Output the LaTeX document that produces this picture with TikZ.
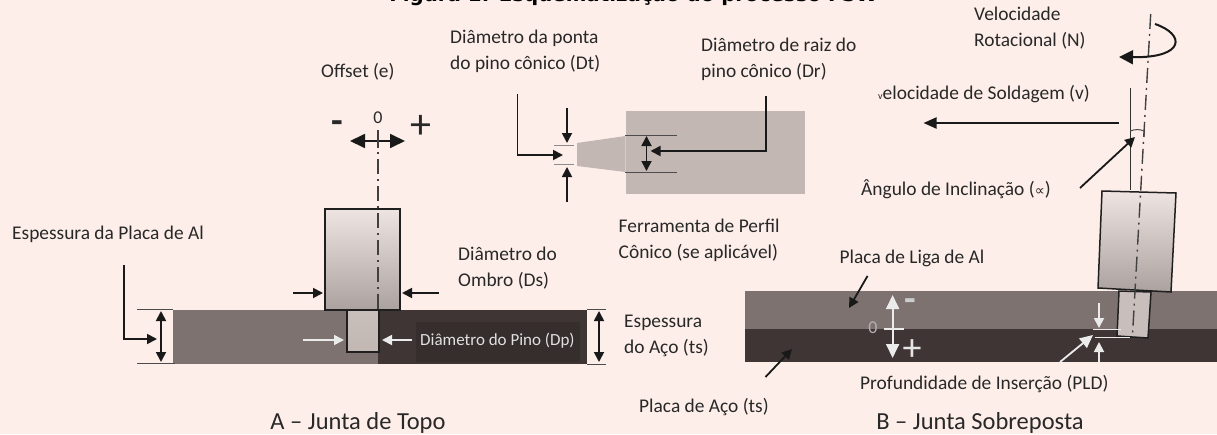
\documentclass[tikz,border=0pt]{standalone}
\usepackage{fontspec}
\setmainfont{Carlito}
\newfontfamily\titlefont{DejaVu Sans}
\newfontfamily\symfont{DejaVu Sans}
\usetikzlibrary{arrows.meta}
\definecolor{bgc}{HTML}{FDEEE9}
\definecolor{algray}{HTML}{7D7270}
\definecolor{steeldark}{HTML}{3E3534}
\definecolor{toolgray}{HTML}{C2B7B3}
\definecolor{txt}{HTML}{282828}
\definecolor{metaltop}{HTML}{EEE4E1}
\definecolor{metalbot}{HTML}{ABA19F}
\tikzset{
 lbl/.style={anchor=west,inner sep=0pt,text=txt,font=\fontsize{19.4}{18}\selectfont},
 captxt/.style={anchor=center,inner sep=0pt,text=txt,font=\fontsize{24.5}{26}\selectfont},
 blk/.style={draw=black!90,line width=1.8pt,-{Triangle[length=10pt,width=10pt]}},
 dbl/.style={draw=black!90,line width=1.8pt,{Triangle[length=10pt,width=10pt]}-{Triangle[length=10pt,width=10pt]}},
 wht/.style={draw=white!92!black,line width=1.8pt,-{Triangle[length=10pt,width=10pt]}},
 thinline/.style={draw=black!70,line width=1pt},
 axisline/.style={draw=black!75,line width=1.4pt,dash pattern=on 15pt off 5pt on 2pt off 5pt},
 metal/.style={draw=black!88,line width=1.5pt,top color=metaltop,bottom color=metalbot},
}
\begin{document}
\begin{tikzpicture}[x=1pt,y=-1pt]
\useasboundingbox (0,0) rectangle (1217,434);
\fill[bgc] (0,0) rectangle (1217,434);
\clip (0,0) rectangle (1217,434);
% title
\node[anchor=base,inner sep=0pt,font=\titlefont\bfseries\fontsize{19.8}{22}\selectfont] (title) at (633.5,1.5) {Figura 1: Esquematização do processo FSW};

% ---------- A: butt joint
\fill[algray] (173,310) rectangle (378,364);
\fill[steeldark] (378,310) rectangle (587,364);
\fill[black,opacity=.12] (416,322) rectangle (580,362);
\draw[thinline] (137,309) -- (173,309);
\draw[thinline] (137,363.5) -- (175,363.5);
\draw[thinline] (587,309) -- (606,309);
\draw[thinline] (587,364) -- (606,364);
\draw[metal] (325,209) rectangle (400,310);
\draw[metal,top color=toolgray!90!white,bottom color=toolgray] (347,310) rectangle (379,352);
\draw[axisline] (378,132) -- (378,310);
\draw[draw=black!90,line width=1.8pt,{Triangle[length=15pt,width=14pt]}-{Triangle[length=15pt,width=14pt]}] (350,141) -- (405,141);
\draw[draw=black!75,line width=1.4pt] (378,130) -- (378,148);
\node[inner sep=0pt,font=\fontsize{18}{18}\selectfont,text=txt] (zeroA) at (378,118) {0};
\node[inner sep=0pt,font=\bfseries\fontsize{38}{38}\selectfont,text=txt] (minusA) at (337,127) {-};
\node[inner sep=0pt,font=\fontsize{42}{42}\selectfont,text=txt] (plusA) at (420.7,127) {+};
\draw[blk] (293,293) -- (323,293);
\draw[blk] (439,293) -- (402,293);
\draw[dbl] (161,311) -- (161,362);
\draw[dbl] (599,311) -- (599,362);
\draw[blk] (124,265) -- (124,339) -- (157,339);
\draw[wht] (303,340) -- (344,340);
\draw[wht] (412,340) -- (382,340);
\node[lbl,text=white!88!black,font=\fontsize{17}{18}\selectfont] (dp) at (420,341) {Diâmetro do Pino (Dp)};
\node[lbl] (offset) at (321,72) {Offset (e)};
\node[lbl] (espal) at (12,234) {Espessura da Placa de Al};
\node[lbl,align=left] (ds) at (458,268) {Diâmetro do\\[8pt]Ombro (Ds)};
\node[lbl,align=left] (ests) at (624,335.5) {Espessura\\[8pt]do Aço (ts)};
\node[captxt] (capA) at (358,422.5) {A – Junta de Topo};

% ---------- tapered tool
\fill[toolgray] (625.5,111) rectangle (805,194);
\fill[toolgray] (577,143) -- (625.5,136) -- (625.5,172) -- (577,166) -- cycle;
\draw[thinline] (625,135) -- (677,135);
\draw[thinline] (625,172) -- (677,172);
\draw[thinline,draw=black!45] (554,145) -- (574,145);
\draw[thinline,draw=black!45] (554,164) -- (574,164);
\draw[dbl] (646.5,136) -- (646.5,171);
\draw[blk] (766,96) -- (766,151) -- (650.5,151);
\draw[blk] (517.5,94) -- (517.5,155) -- (563,155);
\draw[blk] (567,108) -- (567,143);
\draw[blk] (567,202) -- (567,167);
\node[lbl,align=left] (dt) at (450,51) {Diâmetro da ponta\\[8pt]do pino cônico (Dt)};
\node[lbl,align=left] (dr) at (701,59) {Diâmetro de raiz do\\[8pt]pino cônico (Dr)};
\node[lbl,align=left] (fer) at (618.5,240) {Ferramenta de Perfil\\[8pt]Cônico (se aplicável)};

% ---------- B: lap joint
\fill[algray] (745,291) rectangle (1217,329);
\fill[steeldark] (745,329) rectangle (1217,362);
\draw[metal] (1102,191) -- (1176,193) -- (1171,292) -- (1098,288) -- cycle;
\draw[metal,top color=toolgray!90!white,bottom color=toolgray!90!white] (1119,291) -- (1151,292) -- (1148,338) -- (1117,336) -- cycle;
\draw[thinline,draw=black!80,line width=1.3pt] (1130.3,88) -- (1130.3,190);
\draw[axisline] (1150.7,14) -- (1132.5,335);
\draw[draw=black!90,line width=2pt,-{Triangle[length=14pt,width=14pt]}] (1155,24) .. controls (1185,34) and (1186,58) .. (1119,57);
\draw[draw=black!90,line width=2pt,-{Triangle[length=13pt,width=11pt]}] (1119,123) -- (923.5,123);
\draw[thinline] (1130.3,131) .. controls (1135,129) and (1141,129) .. (1144.5,131.5) -- (1144,137);
\draw[blk] (1080,188) -- (1135,137);
\draw[blk] (867.5,276) -- (849,308);
\draw[blk] (765.5,377) -- (792,349);
% white marks
\draw[wht,-{Triangle[length=14pt,width=13pt]}] (892.6,329) -- (892.6,295);
\draw[wht,-{Triangle[length=14pt,width=13pt]}] (892.6,329) -- (892.6,358);
\draw[draw=white!92!black,line width=2pt] (884,329) -- (904,329);
\node[inner sep=0pt,text=white!80!black,font=\bfseries\fontsize{38}{38}\selectfont] (minusB) at (910,305) {-};
\node[inner sep=0pt,text=white!90!black,font=\fontsize{38}{38}\selectfont] (plusB) at (912,350) {+};
\node[inner sep=0pt,text=white!70!black,font=\fontsize{18}{18}\selectfont] (zeroB) at (873,328) {0};
\draw[draw=white!92!black,line width=1pt] (1093,329.5) -- (1121,329.5);
\draw[draw=white!92!black,line width=1pt] (1095,337.7) -- (1130,337.7);
\draw[wht] (1099,303) -- (1099,328);
\draw[wht] (1099,362) -- (1099,342);
\draw[wht,-{Triangle[length=13pt,width=12pt]}] (1060,362) -- (1093,335);
\node[lbl,align=left] (vel) at (974,28) {Velocidade\\[8pt]Rotacional (N)};
\node[lbl] (vs) at (878,94) {{\fontsize{10}{10}\selectfont v}elocidade de Soldagem (v)};
\node[lbl] (ang) at (861,189) {Ângulo de Inclinação ({\symfont\fontsize{14}{14}\selectfont ∝})};
\node[lbl] (liga) at (839.5,258) {Placa de Liga de Al};
\node[lbl] (paco) at (639,407) {Placa de Aço (ts)};
\node[lbl] (pld) at (860,384) {Profundidade de Inserção (PLD)};
\node[captxt] (capB) at (980,422.5) {B – Junta Sobreposta};
\end{tikzpicture}
\end{document}
